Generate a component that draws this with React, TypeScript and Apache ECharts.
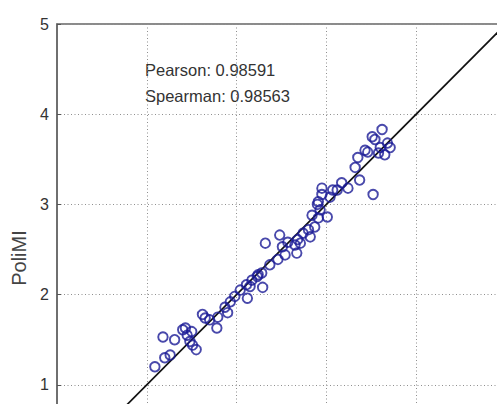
import React, { useEffect, useRef } from "react";
import * as echarts from "echarts";

// Scatter points: [x (reference measure), y (PoliMI)]
const pointsX: number[] = [
  1.09, 1.2, 1.26, 1.18, 1.31, 1.4, 1.45, 1.5, 1.48, 1.51, 1.55, 1.62, 1.7, 1.78, 1.79, 1.9,
  1.87, 1.93, 1.98, 2.04, 2.12, 2.15, 2.17, 2.23, 2.28, 2.29, 2.24, 2.32, 2.37, 2.46, 2.48, 2.51,
  2.54, 2.57, 2.65, 2.67, 2.68, 2.74, 2.82, 2.84, 2.87, 2.91, 3.01, 2.9, 2.91, 2.95, 2.95, 3.04,
  3.07, 3.12, 3.17, 3.24, 3.32, 3.35, 3.37, 3.46, 3.52, 3.54, 3.6, 3.62, 3.65, 3.71, 3.58, 3.51,
  1.65, 1.43, 2.71, 2.8, 2.11, 2.93, 3.43, 3.68,
];
const pointsY: number[] = [
  1.2, 1.3, 1.33, 1.53, 1.5, 1.61, 1.55, 1.59, 1.48, 1.44, 1.39, 1.78, 1.72, 1.63, 1.75, 1.8,
  1.86, 1.92, 1.98, 2.05, 1.96, 2.09, 2.16, 2.2, 2.24, 2.08, 2.22, 2.57, 2.33, 2.39, 2.66, 2.53,
  2.44, 2.58, 2.55, 2.46, 2.61, 2.68, 2.64, 2.88, 2.75, 2.85, 2.86, 3.0, 3.03, 3.11, 3.18, 3.08,
  3.16, 3.16, 3.24, 3.18, 3.41, 3.52, 3.27, 3.58, 3.11, 3.72, 3.63, 3.83, 3.55, 3.63, 3.57, 3.75,
  1.74, 1.63, 2.57, 2.72, 2.11, 2.94, 3.6, 3.68,
];
const identityLine: number[][] = [[0, 0], [5, 5]];
const yTicks: number[] = [0, 1, 2, 3, 4, 5];
const yAxisName = "PoliMI";
const pearsonText = "Pearson: 0.98591";
const spearmanText = "Spearman: 0.98563";

const FONT = "'Liberation Sans', Arial, Helvetica, sans-serif";

export default function App() {
  const ref = useRef<HTMLDivElement>(null);
  useEffect(() => {
    if (!ref.current) return;
    const chart = echarts.init(ref.current, undefined, { renderer: "svg" });
    const data = pointsX.map((x, i) => [x, pointsY[i]]);
    const gridDots = { color: "#8f8f8f", width: 1, type: [1, 2.5] as any };
    chart.setOption({
      animation: false,
      backgroundColor: "#ffffff",
      grid: {
        left: 57,
        top: 24,
        width: 449,
        height: 451,
        show: true,
        borderColor: "#666666",
        borderWidth: 1.5,
      },
      xAxis: {
        type: "value",
        position: "top",
        min: 0,
        max: 5,
        interval: 1,
        axisLine: { show: true, lineStyle: { color: "#666666", width: 1.5 } },
        axisTick: { show: true, inside: true, length: 4, lineStyle: { color: "#555555" } },
        axisLabel: { show: false },
        splitLine: { show: true, lineStyle: gridDots },
      },
      yAxis: {
        type: "value",
        min: yTicks[0],
        max: yTicks[yTicks.length - 1],
        interval: 1,
        axisLine: { show: true, lineStyle: { color: "#666666", width: 1.5 } },
        axisTick: { show: true, inside: true, length: 4, lineStyle: { color: "#555555" } },
        axisLabel: {
          fontFamily: FONT,
          fontSize: 16,
          color: "#333333",
          margin: 8,
          showMinLabel: false,
        },
        splitLine: { show: true, lineStyle: gridDots },
      },
      series: [
        {
          type: "line",
          data: identityLine,
          showSymbol: false,
          symbol: "none",
          lineStyle: { color: "#111111", width: 1.7 },
          z: 3,
        },
        {
          type: "scatter",
          data,
          symbol: "circle",
          symbolSize: 9.5,
          itemStyle: { color: "transparent", borderColor: "#1c1c96", borderWidth: 1.9 },
          z: 4,
        },
      ],
      graphic: [
        {
          type: "text",
          left: 145,
          top: 61,
          style: { text: pearsonText, fontFamily: FONT, fontSize: 16.5, fill: "#333333" },
        },
        {
          type: "text",
          left: 145,
          top: 87,
          style: { text: spearmanText, fontFamily: FONT, fontSize: 16.5, fill: "#333333" },
        },
        {
          type: "text",
          x: 19,
          y: 258,
          rotation: Math.PI / 2,
          style: {
            text: yAxisName,
            fontFamily: FONT,
            fontSize: 20,
            fill: "#444444",
            align: "center",
            verticalAlign: "middle",
          },
        },
      ],
    });
    return () => chart.dispose();
  }, []);
  return (
    <div
      style={{
        position: "fixed",
        left: 0,
        top: 0,
        width: 497,
        height: 404,
        overflow: "hidden",
        background: "#fff",
      }}
    >
      <div ref={ref} style={{ width: 530, height: 500 }} />
    </div>
  );
}
